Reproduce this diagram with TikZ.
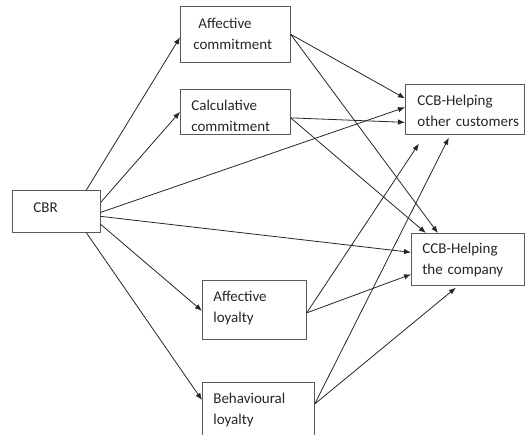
\documentclass[tikz,border=0pt]{standalone}
\usepackage{fontspec}
\setmainfont{Carlito}
\usetikzlibrary{arrows.meta}

\begin{document}
\begin{tikzpicture}[x=1pt, y=-1pt, ->, >={Latex[length=7pt,width=5.5pt]},
      line width=0.8pt, color=black!85]
    \tikzstyle{box} = [draw=black!65,line width=0.7pt,anchor=north west,inner sep=0pt,
      align=left,font=\fontsize{15}{21}\selectfont]
    \useasboundingbox (0,0) rectangle (525,434);
    \node (cbr) [box,text width=88pt,text height=22pt,text depth=20pt] at (12,190) {\hspace*{21pt}CBR};
    \node (ac) [box,text width=110pt,text height=22pt,text depth=34pt] at (180,6)
      {\hspace*{18pt}Affective\\\hspace*{13pt}commitment};
    \node (cc) [box,text width=110pt,text height=21pt,text depth=24pt] at (180,89)
      {\hspace*{11pt}Calculative\\\hspace*{11pt}commitment};
    \node (al) [box,text width=104pt,text height=21pt,text depth=38pt] at (202,280)
      {\hspace*{11pt}Affective\\\hspace*{11pt}loyalty};
    \node (bl) [box,text width=112pt,text height=21pt,text depth=35pt] at (202,382)
      {\hspace*{11pt}Behavioural\\\hspace*{11pt}loyalty};
    \node (hoc) [box,text width=119pt,text height=21pt,text depth=29pt] at (405,84)
      {\hspace*{12pt}CCB-Helping\\\hspace*{12pt}other customers};
    \node (hco) [box,text width=113pt,text height=20pt,text depth=32pt] at (411,233)
      {\hspace*{11pt}CCB-Helping\\\hspace*{11pt}the company};

    \draw ([xshift=30pt]cbr.north) -- ([yshift=-3pt]ac.west);
    \draw ([yshift=9pt]cbr.east) -- (cc.west);
    \draw ([yshift=-1pt]cbr.east) -- ([yshift=2pt]hoc.west);
    \draw ([yshift=-5pt]cbr.east) -- ([yshift=7pt]hco.west);
    \draw ([yshift=-13pt]cbr.east) -- ([yshift=-1pt]al.west);
    \draw ([xshift=30pt]cbr.south) -- ([yshift=-18pt]bl.north west);
    \draw (ac.east) -- ([yshift=11pt]hoc.west);
    \draw (ac.east) -- ([xshift=-30pt]hco.north);
    \draw ([yshift=-6pt]cc.east) -- ([yshift=-13pt]hoc.west);
    \draw ([yshift=-6pt]cc.east) -- ([xshift=-42pt]hco.north);
    \draw ([yshift=-3pt]al.east) -- ([xshift=-46pt,yshift=-9pt]hoc.south);
    \draw ([yshift=-3pt]al.east) -- ([yshift=-15pt]hco.west);
    \draw ([yshift=-22pt]bl.north east) -- ([xshift=-16pt,yshift=-3pt]hoc.south);
    \draw ([yshift=-22pt]bl.north east) -- ([xshift=-12pt,yshift=-2pt]hco.south);
  \end{tikzpicture}
\end{document}
